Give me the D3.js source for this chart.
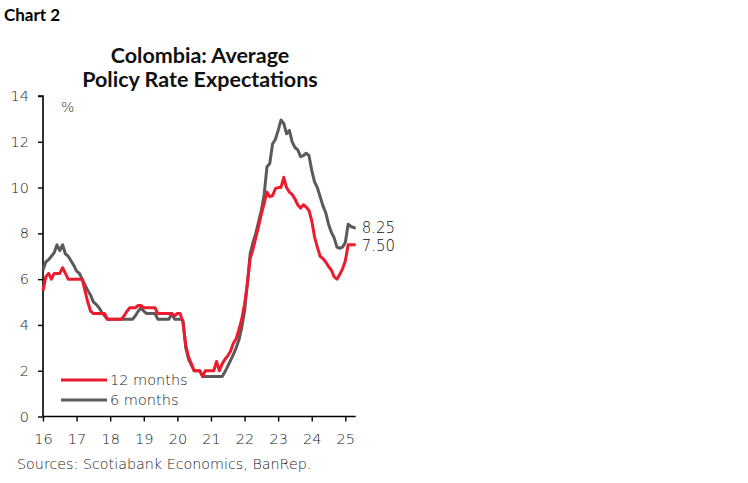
<!DOCTYPE html>
<html>
<head>
<meta charset="utf-8">
<script src="https://cdn.jsdelivr.net/npm/d3@7"></script>
<style>
  body { margin: 0; background: #fff; }
  svg { display: block; }
</style>
</head>
<body>
<svg id="chart" width="748" height="483"></svg>
<script>
// ---- Data (monthly, Jan 2016 onward; last point = latest reading) ----
const startYear = 2016;
const lastMonthFraction = 111.7; // latest observation, months after Jan 2016

const twelveMonths = [
  5.5, 6.1, 6.25, 6.0, 6.25, 6.25, 6.25, 6.5, 6.25, 6.0, 6.0, 6.0,        // 2016
  6.0, 6.0, 6.0, 5.5, 5.0, 4.6, 4.5, 4.5, 4.5, 4.5, 4.5, 4.25,            // 2017
  4.25, 4.25, 4.25, 4.25, 4.25, 4.4, 4.6, 4.75, 4.75, 4.75, 4.85, 4.85,   // 2018
  4.75, 4.75, 4.75, 4.75, 4.75, 4.5, 4.5, 4.5, 4.5, 4.5, 4.5, 4.4,        // 2019
  4.5, 4.5, 4.1, 3.1, 2.6, 2.3, 2.0, 2.0, 2.0, 1.75, 2.0, 2.0,            // 2020
  2.0, 2.0, 2.4, 2.0, 2.3, 2.5, 2.65, 2.85, 3.2, 3.4, 3.8, 4.25,          // 2021
  4.9, 5.8, 6.9, 7.3, 7.8, 8.3, 8.85, 9.3, 9.8, 9.6, 9.65, 9.95,          // 2022
  10.0, 10.0, 10.45, 10.0, 9.8, 9.7, 9.5, 9.25, 9.1, 9.25, 9.15, 9.0,     // 2023
  8.55, 7.85, 7.4, 7.0, 6.9, 6.75, 6.55, 6.4, 6.1, 6.0, 6.2, 6.45,        // 2024
  6.8, 7.5, 7.5, 7.5, 7.5                                                 // 2025 (+latest)
];

const sixMonths = [
  6.4, 6.75, 6.85, 7.0, 7.15, 7.5, 7.25, 7.5, 7.1, 7.0, 6.8, 6.6,         // 2016
  6.35, 6.25, 6.0, 5.75, 5.5, 5.3, 5.0, 4.9, 4.75, 4.55, 4.4, 4.25,       // 2017
  4.25, 4.25, 4.25, 4.25, 4.25, 4.25, 4.25, 4.25, 4.25, 4.4, 4.6, 4.75,   // 2018
  4.6, 4.5, 4.5, 4.5, 4.5, 4.25, 4.25, 4.25, 4.25, 4.25, 4.5, 4.25,       // 2019
  4.25, 4.25, 4.2, 3.0, 2.5, 2.25, 2.0, 2.0, 2.0, 1.75, 1.75, 1.75,       // 2020
  1.75, 1.75, 1.75, 1.75, 1.75, 1.95, 2.2, 2.45, 2.7, 3.0, 3.35, 3.9,     // 2021
  4.6, 5.8, 7.1, 7.6, 8.0, 8.5, 9.0, 9.7, 10.9, 11.05, 11.9, 12.1,        // 2022
  12.5, 12.95, 12.8, 12.35, 12.5, 12.0, 11.75, 11.65, 11.35, 11.4, 11.5, 11.4, // 2023
  10.75, 10.25, 10.0, 9.6, 9.2, 8.9, 8.4, 8.05, 7.8, 7.4, 7.35, 7.4,      // 2024
  7.6, 8.4, 8.3, 8.25, 8.25                                               // 2025 (+latest)
];

const yTicks = [0, 2, 4, 6, 8, 10, 12, 14];
const xTickLabels = ["16", "17", "18", "19", "20", "21", "22", "23", "24", "25"];
const seriesNames = ["12 months", "6 months"];
const latestLabels = ["7.50", "8.25"];
const colors = ["#ec1c2e", "#5a5a5a"];

// ---- Build ----
const svg = d3.select("#chart");
const TFONT = "Lato, 'Noto Sans', sans-serif";
const FONT = "'DejaVu Sans', 'Open Sans', sans-serif";
const FW = 200;

const monthPos = (i, n) => (i === n - 1 ? lastMonthFraction : i);
const toYear = m => startYear + m / 12;

const x = d3.scaleLinear()
  .domain([startYear, toYear(lastMonthFraction)])
  .range([43, 355.7]);
const y = d3.scaleLinear().domain([0, 14]).range([416.5, 96]);

// Header
svg.append("text").attr("x", 4).attr("y", 21)
  .attr("font-family", TFONT).attr("font-weight", 700).attr("font-size", 17)
  .attr("fill", "#000").text("Chart 2");

const title = svg.append("text").attr("text-anchor", "middle")
  .attr("font-family", TFONT).attr("font-weight", 700).attr("font-size", 21.5)
  .attr("fill", "#111");
title.append("tspan").attr("x", 200).attr("y", 63).text("Colombia: Average");
title.append("tspan").attr("x", 200).attr("y", 87).text("Policy Rate Expectations");

// Axes
const yAxis = d3.axisLeft(y).tickValues(yTicks).tickSize(5).tickPadding(9)
  .tickFormat(d3.format("d"));
const gy = svg.append("g").attr("transform", "translate(43,0)").call(yAxis);

const xAxis = d3.axisBottom(x)
  .tickValues(xTickLabels.map((d, i) => startYear + i))
  .tickSize(5).tickPadding(12)
  .tickFormat((d, i) => xTickLabels[i]);
const gx = svg.append("g").attr("transform", "translate(0,416.5)").call(xAxis);

[gx, gy].forEach(g => {
  g.select(".domain").attr("stroke", "#000").attr("stroke-width", 1.6);
  g.selectAll(".tick line").attr("stroke", "#000").attr("stroke-width", 1.4);
  g.selectAll(".tick text").attr("font-family", FONT).attr("font-size", 14.5)
    .attr("font-weight", FW).attr("fill", "#222");
});
gy.select(".domain").attr("d", "M0,416.5V96H-5");
gx.select(".domain").attr("d", "M43,0H355.7");

svg.append("text").attr("x", 61).attr("y", 112)
  .attr("font-family", FONT).attr("font-weight", FW).attr("font-size", 14)
  .attr("fill", "#333").text("%");

// Lines
const line = d3.line()
  .x(d => x(d.t))
  .y(d => y(d.v));

const series = [twelveMonths, sixMonths].map(arr =>
  arr.map((v, i) => ({ t: toYear(monthPos(i, arr.length)), v })));

[1, 0].forEach(k => {
  svg.append("path").datum(series[k])
    .attr("fill", "none").attr("stroke", colors[k]).attr("stroke-width", 3)
    .attr("stroke-linejoin", "round")
    .attr("d", line);
});

// Latest value labels
[1, 0].forEach(k => {
  const last = series[k][series[k].length - 1];
  svg.append("text")
    .attr("x", x(last.t) + 6)
    .attr("y", y(last.v) + (k === 1 ? 5 : 6))
    .attr("font-family", FONT).attr("font-weight", FW).attr("font-size", 15)
    .attr("fill", "#111")
    .text(latestLabels[k]);
});

// Legend
seriesNames.forEach((name, k) => {
  const ly = 380 + k * 20;
  svg.append("line").attr("x1", 61).attr("x2", 107).attr("y1", ly).attr("y2", ly)
    .attr("stroke", colors[k]).attr("stroke-width", 3);
  svg.append("text").attr("x", 110).attr("y", ly + 5)
    .attr("font-family", FONT).attr("font-weight", FW).attr("font-size", 14.5)
    .attr("fill", "#222").text(name);
});

// Source
svg.append("text").attr("x", 17).attr("y", 469)
  .attr("font-family", FONT).attr("font-weight", FW).attr("font-size", 14.3)
  .attr("fill", "#222")
  .text("Sources: Scotiabank Economics, BanRep.");
</script>
</body>
</html>
